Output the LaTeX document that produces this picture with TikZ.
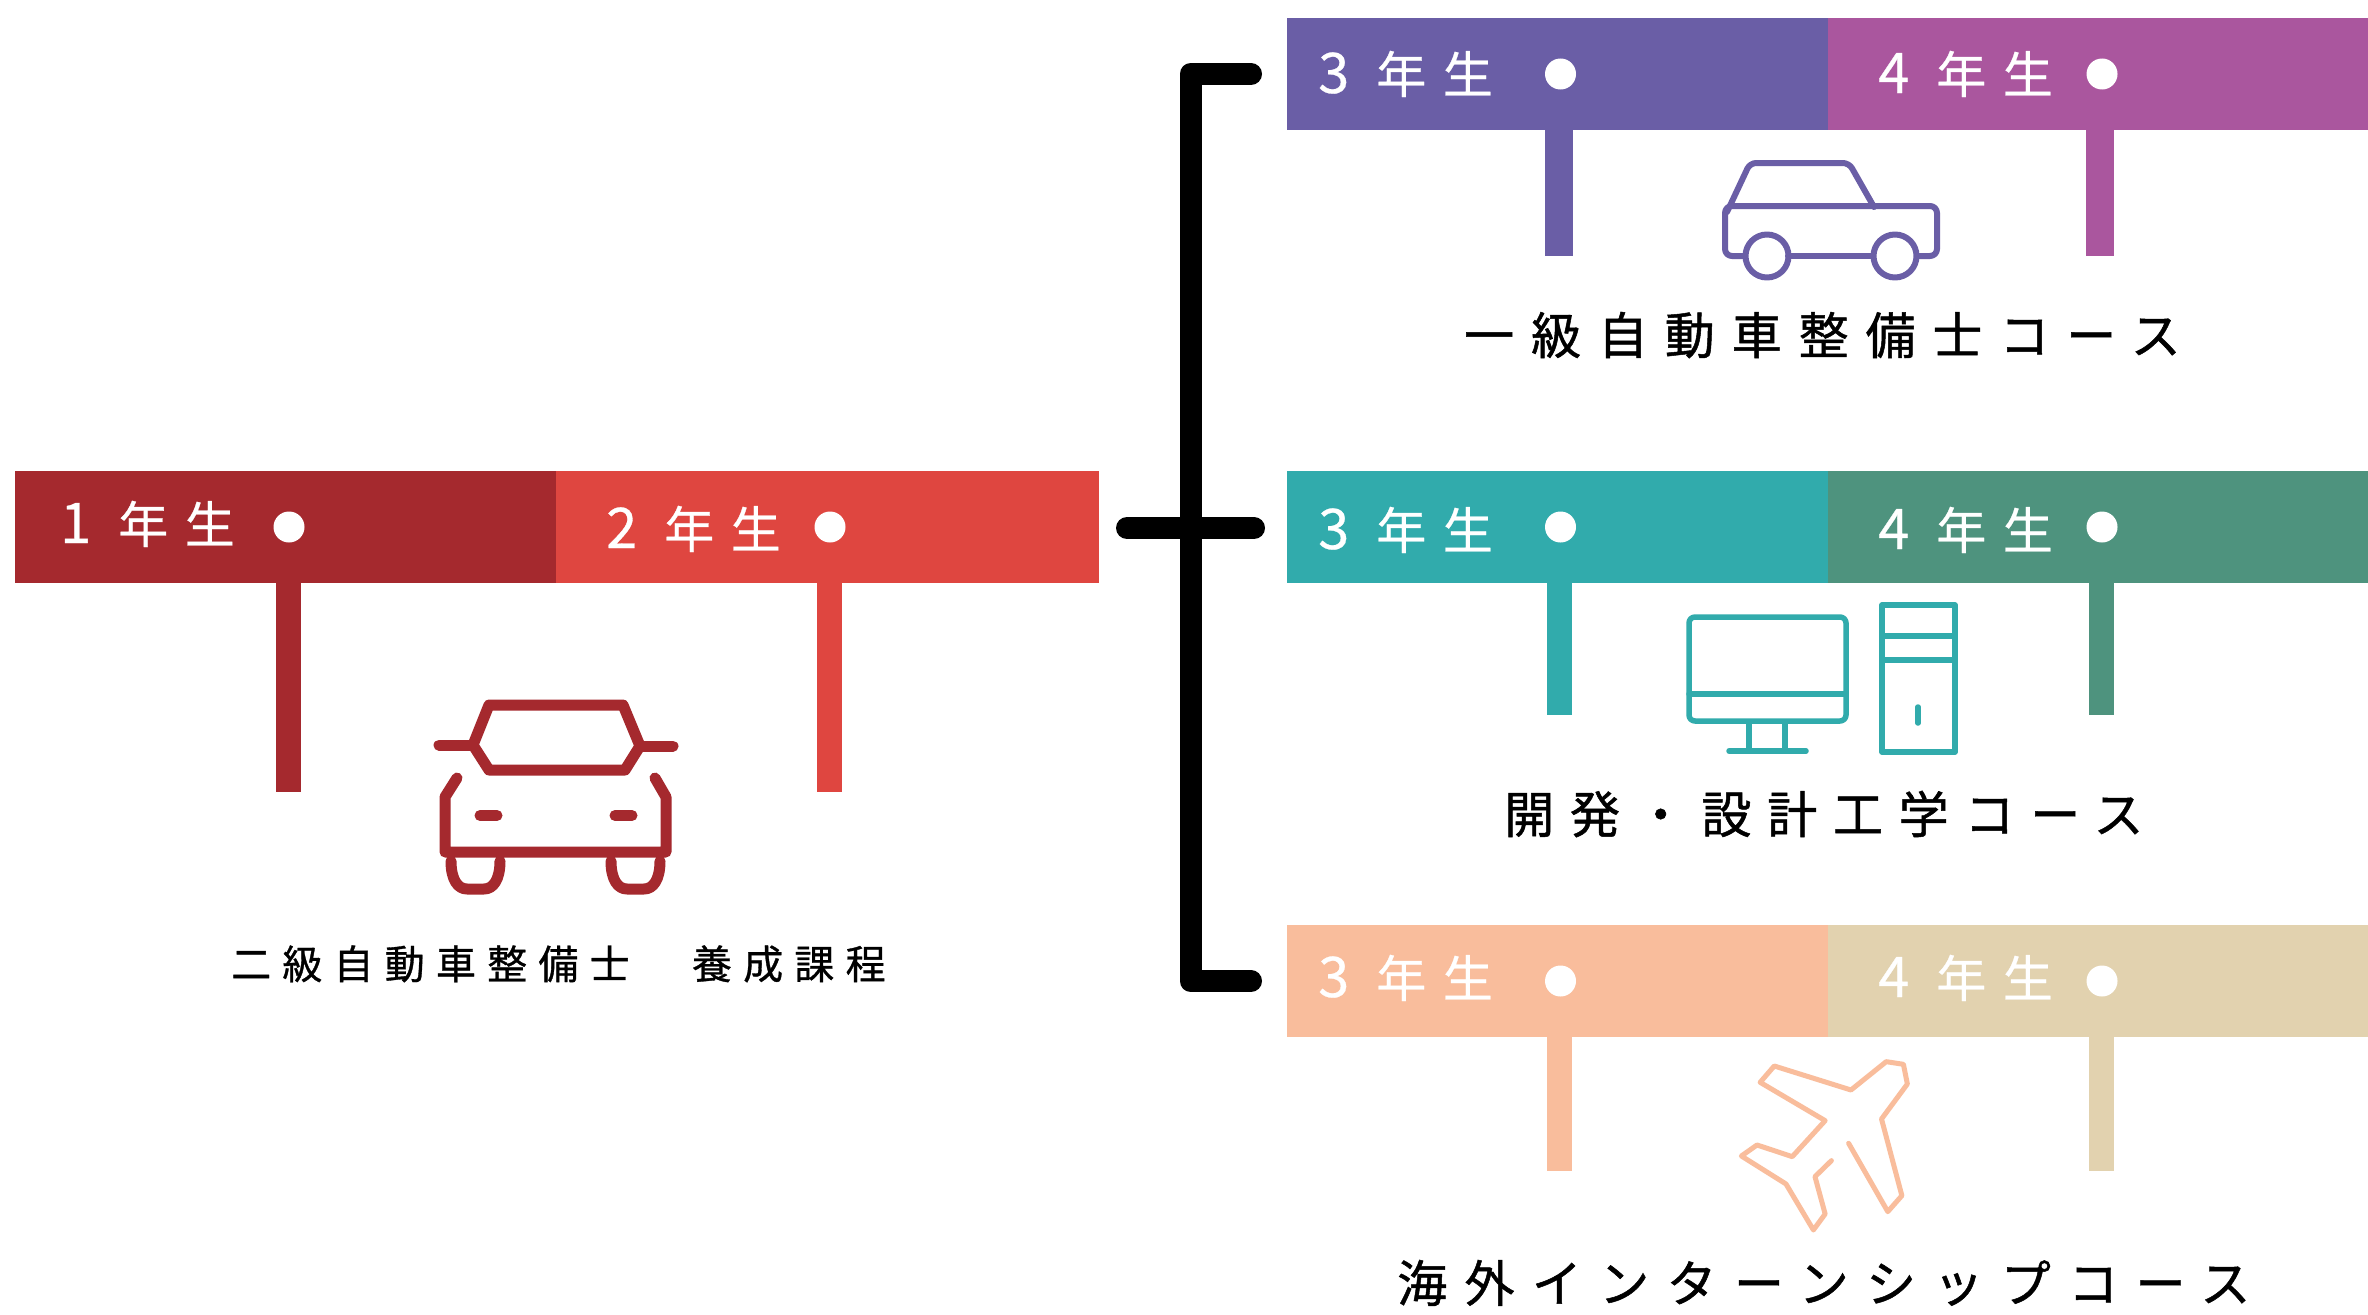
\documentclass[tikz,border=0pt]{standalone}
\usepackage{fontspec}
\setmainfont{Noto Sans CJK JP}
\newfontfamily\yearfont[LetterSpace=33,FakeBold=0.5]{Noto Sans CJK JP}
\newfontfamily\digitfont[FakeBold=0.5]{Noto Sans CJK JP}
\newfontfamily\titleA[LetterSpace=33.8,FakeBold=1]{Noto Sans CJK JP}
\newfontfamily\titleB[LetterSpace=31.5,FakeBold=1]{Noto Sans CJK JP}
\newfontfamily\titleC[LetterSpace=34.7,FakeBold=1]{Noto Sans CJK JP}
\newfontfamily\smallfont[LetterSpace=28,FakeBold=0.8]{Noto Sans CJK JP}
\newcommand{\yeardigit}[1]{{\digitfont\fontsize{56pt}{56pt}\selectfont #1}\hspace{27pt}}
\definecolor{cA}{HTML}{A5292E}
\definecolor{cB}{HTML}{DF4640}
\definecolor{cC}{HTML}{6A5EA6}
\definecolor{cD}{HTML}{AA569E}
\definecolor{cE}{HTML}{31ABAC}
\definecolor{cF}{HTML}{4E937E}
\definecolor{cG}{HTML}{F9BD9C}
\definecolor{cH}{HTML}{E2D2AF}
\tikzset{
  barbox/.style={anchor=north west,inner sep=0pt,outer sep=0pt,minimum height=112pt},
  stem/.style={line width=#1},
  dotmark/.style={circle,fill=white,inner sep=0pt,minimum size=31pt},
  yearlabel/.style={anchor=base west,inner sep=0pt,text=white,font=\yearfont\fontsize{50pt}{50pt}\selectfont},
  titlelabel/.style={anchor=base west,inner sep=0pt,text=black},
  smalllabel/.style={anchor=base west,inner sep=0pt,text=black,font=\smallfont\fontsize{40pt}{40pt}\selectfont},
  bracket/.style={line width=22pt,line cap=round,line join=round,black},
  icon/.style={line join=round,line cap=round},
}
\begin{document}
\begin{tikzpicture}[x=1pt,y=-1pt]
\useasboundingbox (0,0) rectangle (2368,1314);
\fill[white] (0,0) rectangle (2368,1314);

% bars
\node[barbox,fill=cA,minimum width=541pt] (b1) at (15,471) {};
\node[barbox,fill=cB,minimum width=543pt] (b2) at (556,471) {};
\node[barbox,fill=cC,minimum width=541pt] (b3a) at (1287,18) {};
\node[barbox,fill=cD,minimum width=540pt] (b4a) at (1828,18) {};
\node[barbox,fill=cE,minimum width=541pt] (b3b) at (1287,471) {};
\node[barbox,fill=cF,minimum width=540pt] (b4b) at (1828,471) {};
\node[barbox,fill=cG,minimum width=541pt] (b3c) at (1287,925) {};
\node[barbox,fill=cH,minimum width=540pt] (b4c) at (1828,925) {};

% stems
\coordinate (s1) at (288.5,792);
\coordinate (s2) at (829.5,792);
\coordinate (s3a) at (1559,256);
\coordinate (s4a) at (2100,256);
\coordinate (s3b) at (1559.5,715);
\coordinate (s4b) at (2101.5,715);
\coordinate (s3c) at (1559.5,1171);
\coordinate (s4c) at (2101.5,1171);
\draw[stem=25pt,cA] (s1 |- b1.south) -- (s1);
\draw[stem=25pt,cB] (s2 |- b2.south) -- (s2);
\draw[stem=28pt,cC] (s3a |- b3a.south) -- (s3a);
\draw[stem=28pt,cD] (s4a |- b4a.south) -- (s4a);
\draw[stem=25pt,cE] (s3b |- b3b.south) -- (s3b);
\draw[stem=25pt,cF] (s4b |- b4b.south) -- (s4b);
\draw[stem=25pt,cG] (s3c |- b3c.south) -- (s3c);
\draw[stem=25pt,cH] (s4c |- b4c.south) -- (s4c);

% dots
\node[dotmark] (d1) at (289,527) {};
\node[dotmark] (d2) at (830,527) {};
\node[dotmark] (d3a) at (1560.5,74) {};
\node[dotmark] (d4a) at (2102,74) {};
\node[dotmark] (d3b) at (1560.5,527) {};
\node[dotmark] (d4b) at (2102,527) {};
\node[dotmark] (d3c) at (1560.5,981) {};
\node[dotmark] (d4c) at (2102,981) {};

% year labels
\node[yearlabel] (y1) at (60,543) {\yeardigit{1}年生};
\node[yearlabel] (y2) at (606,548) {\yeardigit{2}年生};
\node[yearlabel] (y3a) at (1318,93) {\yeardigit{3}年生};
\node[yearlabel] (y4a) at (1878,93) {\yeardigit{4}年生};
\node[yearlabel] (y3b) at (1318,549) {\yeardigit{3}年生};
\node[yearlabel] (y4b) at (1878,549) {\yeardigit{4}年生};
\node[yearlabel] (y3c) at (1318,997) {\yeardigit{3}年生};
\node[yearlabel] (y4c) at (1878,997) {\yeardigit{4}年生};

% titles
\node[smalllabel] (t1) at (231,979) {二級自動車整備士　養成課程};
\node[titlelabel,font=\titleA\fontsize{50pt}{50pt}\selectfont] (t2) at (1464,354) {一級自動車整備士コース};
\node[titlelabel,font=\titleB\fontsize{50pt}{50pt}\selectfont] (t3) at (1504,833) {開発・設計工学コース};
\node[titlelabel,font=\titleC\fontsize{50pt}{50pt}\selectfont] (t4) at (1397,1302) {海外インターンシップコース};

% bracket
\draw[bracket] (1251,74) -- (1190.5,74) -- (1190.5,981) -- (1251,981);
\draw[bracket] (1127,528) -- (1254,528);

% red car
\begin{scope}[icon,cA,line width=11pt]
\draw (489,705) -- (623,705) -- (640,746) -- (625,770) -- (489,770) -- (473,745) -- cycle;
\draw (439,745) -- (473,745);
\draw (640,746) -- (673,746);
\draw (457,778) -- (445,797) -- (445,852) -- (666,852) -- (666,797) -- (655,778);
\draw (480,815.5) -- (497,815.5);
\draw (615,815.5) -- (632,815.5);
\draw (451,861) .. controls (451,880) and (458,889) .. (467,889) -- (484,889) .. controls (493,889) and (500,880) .. (500,861);
\draw (611,861) .. controls (611,880) and (618,889) .. (627,889) -- (644,889) .. controls (653,889) and (660,880) .. (660,861);
\end{scope}

% purple car
\begin{scope}[icon,cC,line width=6pt]
\draw[rounded corners=6pt] (1727,212) -- (1750,163) -- (1849,163) -- (1874,207);
\draw[rounded corners=7pt] (1745,256) -- (1725,256) -- (1725,206) -- (1937,206) -- (1937,256) -- (1918,256);
\draw (1788,256) -- (1873,256);
\draw (1767,256) circle (21.5pt);
\draw (1895,256) circle (21.5pt);
\end{scope}

% computer
\begin{scope}[icon,cE,line width=5.5pt]
\draw[rounded corners=6pt] (1689,617) rectangle (1846,721);
\draw (1689,694) -- (1846,694);
\draw (1749,724) -- (1749,750);
\draw (1785,724) -- (1785,750);
\draw (1729,751) -- (1806,751);
\draw (1882,605) rectangle (1955,752);
\draw (1882,636) -- (1955,636);
\draw (1882,660) -- (1955,660);
\draw (1918,707) -- (1918,723);
\end{scope}

% plane
\begin{scope}[icon,cG,line width=5pt,shift={(1140,910)},x=0.783pt,y=-0.3333pt]
\draw (905,700) -- (955,905) -- (973,857) -- (947,627) -- (980,522) -- (975,463) -- (953,455) -- (908,540) -- (810,468) -- (792,517) -- (875,632) -- (833,740) -- (788,705) -- (768,738) -- (825,822) -- (860,960) -- (875,912) -- (862,800) -- (883,752);
\end{scope}
\end{tikzpicture}
\end{document}
